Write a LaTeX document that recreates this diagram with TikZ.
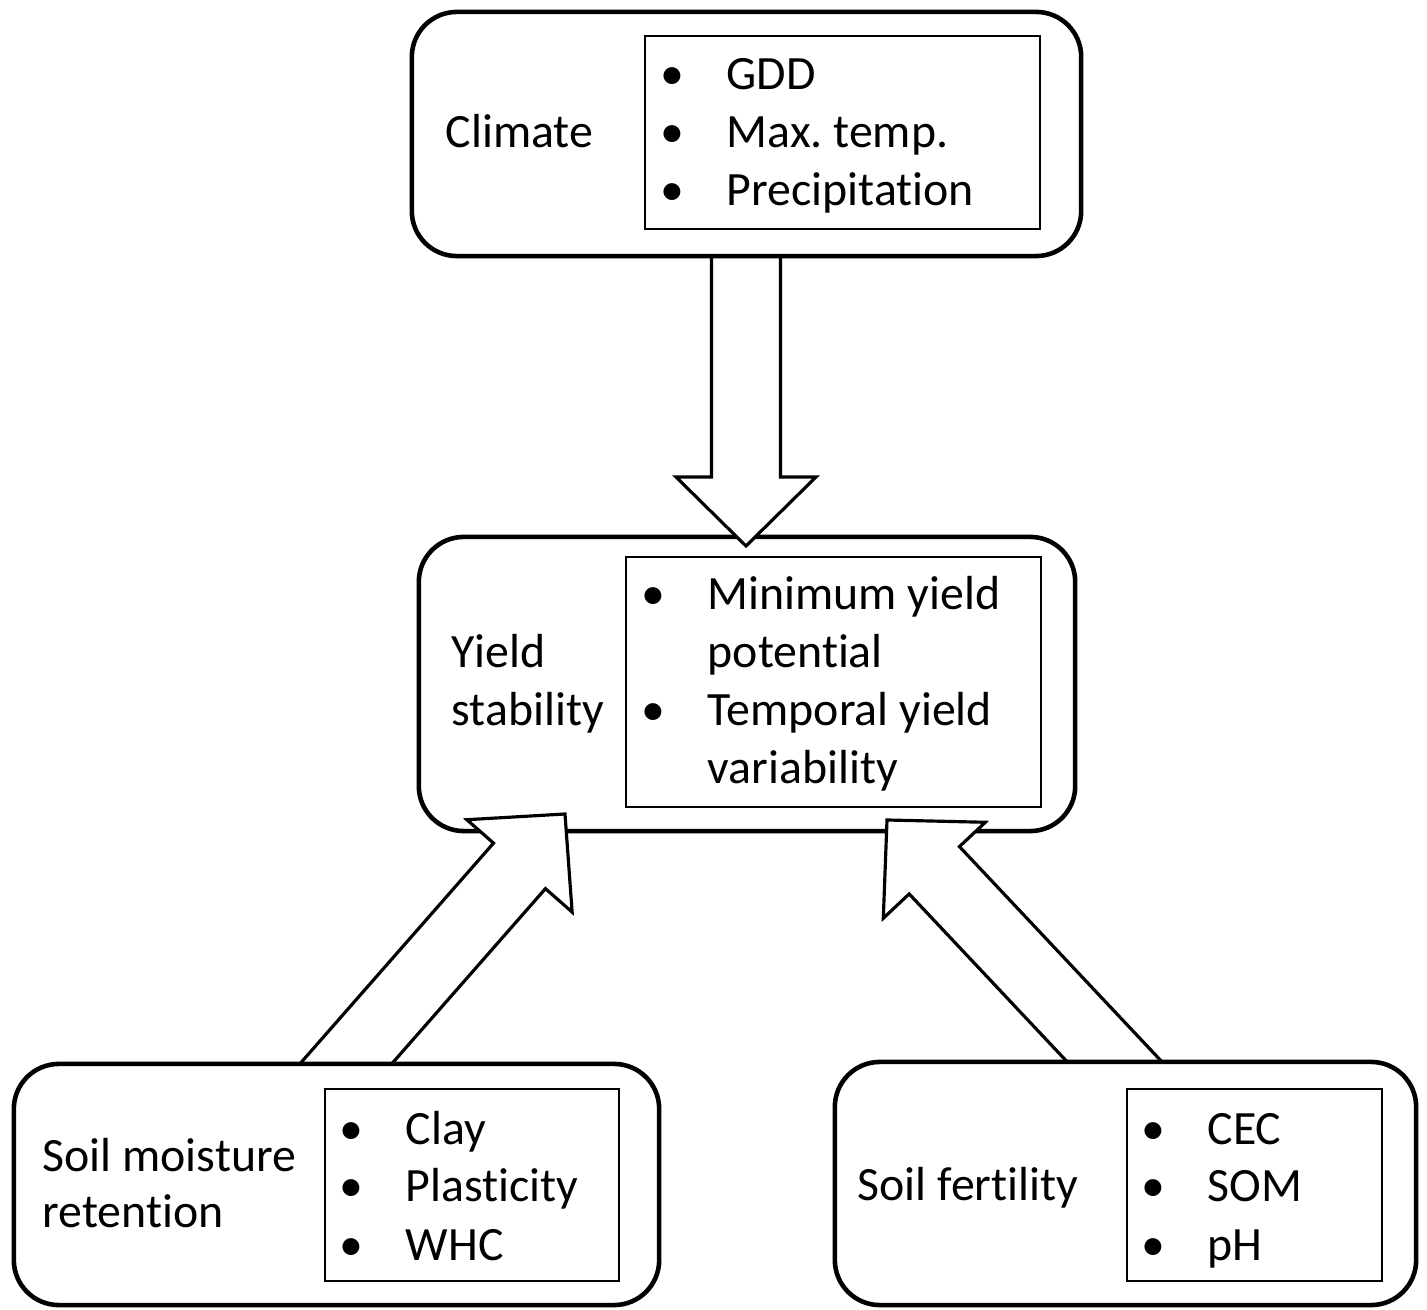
\documentclass[tikz,border=0pt]{standalone}
\usepackage{fontspec}
\setmainfont{Carlito}[Ligatures=NoCommon]
\usetikzlibrary{calc}
\frenchspacing

\newcommand{\bul}{\llap{\makebox[1.08cm]{\textbullet}}}

\begin{document}
\begin{tikzpicture}[x=0.01cm, y=-0.01cm, font=\fontsize{13.6pt}{16.5pt}\selectfont,
  outerbox/.style={draw, fill=white, line width=1.3pt, rounded corners=0.45cm, inner sep=0},
  listbox/.style={draw, line width=0.55pt, inner sep=0},
  lbl/.style={anchor=base west, inner sep=0},
  item/.style={anchor=base west, inner sep=0, execute at begin node=\bul},
  blockarrow/.style={draw, fill=white, line width=0.9pt, line join=miter}]
  \useasboundingbox (0,0) rectangle (1427,1310);

  % yield stability (drawn first, arrows go over it)
  \node[outerbox, minimum width=6.56cm, minimum height=2.94cm] (yield) at (747,684) {};
  \node[listbox, minimum width=4.15cm, minimum height=2.50cm] (yieldlist) at (833.5,682) {};
  \node[lbl] (yieldlbl1) at (451,668) {Yield};
  \node[lbl] (yieldlbl2) at (451,726) {stability};
  \node[item] (yield1) at (707,610) {Minimum yield};
  \node[lbl] (yield2) at (707,668) {potential};
  \node[item] (yield3) at (707,726) {Temporal yield};
  \node[lbl] (yield4) at (707,784) {variability};

  % block arrows
  \coordinate (clim-tail) at (746,235);
  \coordinate (clim-tip) at (746,546);
  \coordinate (moist-tail) at (322,1091);
  \coordinate (moist-tip) at (565,814);
  \coordinate (fert-tail) at (1142,1091);
  \coordinate (fert-tip) at (887,820);
  \foreach \src in {clim, moist, fert}{
    \coordinate (\src-head) at ($(\src-tip)!0.69cm!(\src-tail)$);
    \draw[blockarrow] ($(\src-tail)!0.345cm!90:(\src-tip)$)
      -- ($(\src-head)!0.345cm!90:(\src-tip)$) -- ($(\src-head)!0.7cm!90:(\src-tip)$)
      -- (\src-tip)
      -- ($(\src-head)!0.7cm!-90:(\src-tip)$) -- ($(\src-head)!0.345cm!-90:(\src-tip)$)
      -- ($(\src-tail)!0.345cm!-90:(\src-tip)$) -- cycle;
  }

  % climate
  \node[outerbox, minimum width=6.69cm, minimum height=2.44cm] (climate) at (746.5,134) {};
  \node[listbox, minimum width=3.95cm, minimum height=1.93cm] (climlist) at (842.5,132.5) {};
  \node[lbl] (climlbl) at (445,148) {Climate};
  \foreach \txt [count=\i] in {GDD, Max. temp., Precipitation}
    \node[item] (clim\i) at (726,{90+58*(\i-1)}) {\txt};

  % soil moisture retention
  \node[outerbox, minimum width=6.45cm, minimum height=2.41cm] (moist) at (336.5,1184.5) {};
  \node[listbox, minimum width=2.94cm, minimum height=1.92cm] (moistlist) at (472,1185) {};
  \node[lbl] (moistlbl1) at (42,1172) {Soil moisture};
  \node[lbl] (moistlbl2) at (42,1228) {retention};
  \foreach \txt [count=\i] in {Clay, Plasticity, WHC}
    \node[item] (moist\i) at (405,{1144+58*(\i-1)}) {\txt};

  % soil fertility
  \node[outerbox, minimum width=5.81cm, minimum height=2.43cm] (fert) at (1125.5,1183.5) {};
  \node[listbox, minimum width=2.55cm, minimum height=1.92cm] (fertlist) at (1254.5,1185) {};
  \node[lbl] (fertlbl) at (857,1200) {Soil fertility};
  \foreach \txt [count=\i] in {CEC, SOM, pH}
    \node[item] (fert\i) at (1207,{1144+58*(\i-1)}) {\txt};
\end{tikzpicture}
\end{document}
